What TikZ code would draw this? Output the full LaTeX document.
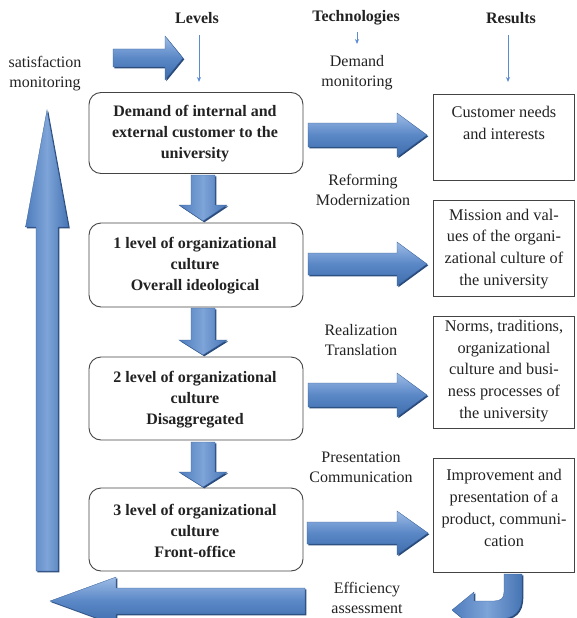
\documentclass[tikz,border=0pt]{standalone}
\usepackage{fontspec}
\setmainfont{Liberation Serif}
\usetikzlibrary{arrows.meta}
\definecolor{bluetop}{HTML}{9DBCE6}
\definecolor{bluemid}{HTML}{5A87C6}
\definecolor{bluebot}{HTML}{3E6CAC}
\definecolor{blueedge}{HTML}{355F99}
\definecolor{blueshadow}{HTML}{2A4A7A}
\definecolor{vleft}{HTML}{4F7DBD}
\definecolor{vmid}{HTML}{7EA4D8}
\definecolor{vright}{HTML}{4674B4}
\definecolor{thinblue}{HTML}{5B8BD0}
\definecolor{txt}{HTML}{222222}
\definecolor{boxline}{HTML}{444444}
\tikzset{
  lvl/.style={draw=boxline, line width=0.9pt, rounded corners=12pt, minimum width=214pt, inner sep=0pt},
  lvltext/.style={align=center, text=txt, font=\bfseries\fontsize{16}{21}\selectfont},
  res/.style={draw=boxline, line width=0.9pt, minimum width=141pt, inner sep=0pt},
  restext/.style={align=center, text=txt, font=\fontsize{16.3}{21.8}\selectfont},
  tech/.style={align=center, text=txt, font=\fontsize{16}{20}\selectfont},
  headtext/.style={text=txt, font=\bfseries\fontsize{16}{20}\selectfont},
  thin/.style={draw=thinblue, line width=0.8pt, -{Stealth[length=5pt,width=4pt]}},
  harrow/.style={top color=bluetop, bottom color=bluebot, middle color=bluemid, draw=blueedge, line width=0.3pt},
  varrow/.style={left color=vleft, right color=vright, middle color=vmid, draw=blueedge, line width=0.3pt},
  ashadow/.style={fill=blueshadow}
}
% horizontal block arrow: tail x, head-base x, tip x, centre y, body half, head half
\newcommand{\harr}[6]{%
  \fill[ashadow,xshift=1.3pt,yshift=-1.3pt] (#1,{#4-#5}) -- (#2,{#4-#5}) -- (#2,{#4-#6}) -- (#3,#4) -- (#2,{#4+#6}) -- (#2,{#4+#5}) -- (#1,{#4+#5}) -- cycle;
  \path[harrow] (#1,{#4-#5}) -- (#2,{#4-#5}) -- (#2,{#4-#6}) -- (#3,#4) -- (#2,{#4+#6}) -- (#2,{#4+#5}) -- (#1,{#4+#5}) -- cycle;}
% vertical block arrow: centre x, tail y, head-base y, tip y, body half, head half
\newcommand{\varr}[6]{%
  \fill[ashadow,xshift=1.3pt,yshift=-1.3pt] ({#1-#5},#2) -- ({#1-#5},#3) -- ({#1-#6},#3) -- (#1,#4) -- ({#1+#6},#3) -- ({#1+#5},#3) -- ({#1+#5},#2) -- cycle;
  \path[varrow] ({#1-#5},#2) -- ({#1-#5},#3) -- ({#1-#6},#3) -- (#1,#4) -- ({#1+#6},#3) -- ({#1+#5},#3) -- ({#1+#5},#2) -- cycle;}
\begin{document}
\begin{tikzpicture}[x=1pt,y=-1pt]
\useasboundingbox (0,0) rectangle (576,618);
\clip (0,0) rectangle (576,618);

% headers
\node[headtext] (hlev) at (197,18) {Levels};
\node[headtext] (htech) at (356,18) {Technologies};
\node[headtext] (hres) at (511,18) {Results};
\coordinate (lev1) at (199,35);  \coordinate (lev2) at (199,82);
\coordinate (tec1) at (357,32);  \coordinate (tec2) at (357,44);
\coordinate (res1) at (508,35);  \coordinate (res2) at (508,82);
\draw[thin] (lev1) -- (lev2);
\draw[thin] (tec1) -- (tec2);
\draw[thin] (res1) -- (res2);

% level boxes
\node[lvl, minimum height=81pt] (b1) at (196,133) {};
\node[lvl, minimum height=84pt] (b2) at (196,265) {};
\node[lvl, minimum height=83pt] (b3) at (196,398.5) {};
\node[lvl, minimum height=83pt] (b4) at (196,529.5) {};
\node[lvltext] (b1t) at (195,134) {Demand of internal and\\external customer to the\\university};
\node[lvltext] (b2t) at (195,266) {1 level of organizational\\culture\\Overall ideological};
\node[lvltext] (b3t) at (195,400) {2 level of organizational\\culture\\Disaggregated};
\node[lvltext] (b4t) at (195,531) {3 level of organizational\\culture\\Front-office};

% result boxes
\node[res, minimum height=86pt] (r1) at (504,137) {};
\node[res, minimum height=96pt] (r2) at (504,248) {};
\node[res, minimum height=112pt] (r3) at (504,372) {};
\node[res, minimum height=114pt] (r4) at (504,515) {};
\node[restext] (r1t) at (504,123) {Customer needs\\and interests};
\node[restext] (r2t) at (504,249) {Mission and val-\\ues of the organi-\\zational culture of\\the university};
\node[restext] (r3t) at (504,371) {Norms, traditions,\\organizational\\culture and busi-\\ness processes of\\the university};
\node[restext] (r4t) at (504,508) {Improvement and\\presentation of a\\product, communi-\\cation};

% technology labels
\node[tech] (t0) at (357,73) {Demand\\monitoring};
\node[tech] (t1) at (363,190) {Reforming\\Modernization};
\node[tech] (t2) at (361,340) {Realization\\Translation};
\node[tech] (t3) at (361,467) {Presentation\\Communication};
\node[tech] (t4) at (367,598) {Efficiency\\assessment};
\node[tech] (sat) at (45,74) {satisfaction\\monitoring};

% block arrows
\harr{113}{165}{183}{58}{9}{22}
\harr{308}{397}{427}{135}{12}{22}
\harr{308}{397}{427}{264}{11}{22}
\harr{308}{397}{427}{395}{12}{22}
\harr{307}{397}{428}{533}{11}{22}
\harr{305}{116}{50}{601}{13}{24}
\varr{47}{571}{227}{110}{11}{21.5}
\varr{203}{175}{205}{221}{12}{24}
\varr{203}{308}{340}{355}{12}{24}
\varr{203}{442}{472}{487}{12}{24}

% curved arrow below last result
\fill[ashadow,xshift=1.3pt,yshift=-1.3pt] (522,574) -- (522,596) .. controls (522,612) and (514,619) .. (498,619) -- (474,619) -- (474,628) -- (452,610) -- (474,592) -- (474,601) -- (494,601) .. controls (501,601) and (504,598) .. (504,592) -- (504,574) -- cycle;
\path[varrow] (522,574) -- (522,596) .. controls (522,612) and (514,619) .. (498,619) -- (474,619) -- (474,628) -- (452,610) -- (474,592) -- (474,601) -- (494,601) .. controls (501,601) and (504,598) .. (504,592) -- (504,574) -- cycle;
\end{tikzpicture}
\end{document}
